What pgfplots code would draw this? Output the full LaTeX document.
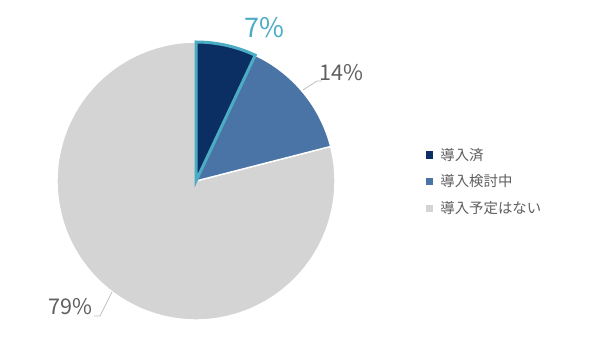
\documentclass[border=0pt]{standalone}
\usepackage{pgfplots}
\pgfplotsset{compat=1.18}
\usepackage{fontspec}
\setmainfont{Noto Sans CJK JP}
\definecolor{cnavy}{HTML}{0B2E63}
\definecolor{cblue}{HTML}{4A74A6}
\definecolor{cgrey}{HTML}{D4D4D4}
\definecolor{ccyan}{HTML}{4BADC4}
\definecolor{ctext}{HTML}{5F5F5F}
\definecolor{cline}{HTML}{BFBFBF}
% shares (percent)
\def\vA{7}\def\vB{14}\def\vC{79}
\pgfmathsetmacro{\aA}{90-3.6*\vA}
\pgfmathsetmacro{\aB}{\aA-3.6*\vB}
\pgfmathsetmacro{\aC}{\aB-3.6*\vC}
\begin{document}
\begin{tikzpicture}
\begin{axis}[
  scale only axis, width=300pt, height=169pt,
  xmin=-196, xmax=404, ymin=-157, ymax=181,
  hide axis, clip=false,
]
\path[use as bounding box] (axis cs:-196,-157) rectangle (axis cs:404,181);
% slices
\addplot[fill=cgrey, draw=white, line width=0.7pt, domain=\aB:\aC, samples=120] ({139*cos(x)},{139*sin(x)}) -- (axis cs:0,0) -- cycle;
\addplot[fill=cblue, draw=white, line width=0.7pt, domain=\aA:\aB, samples=40] ({139*cos(x)},{139*sin(x)}) -- (axis cs:0,0) -- cycle;
\addplot[fill=cnavy, draw=ccyan, line width=1.5pt, line join=miter, domain=90:\aA, samples=30] ({139*cos(x)},{139*sin(x)}) -- (axis cs:0,0) -- cycle;
% data labels
\node[text=ccyan, font=\fontsize{13.5}{15}\selectfont] at (axis cs:68,153) {7\%};
\node[text=ctext, font=\fontsize{10.8}{12}\selectfont] at (axis cs:145,108) {14\%};
\node[text=ctext, font=\fontsize{10.8}{12}\selectfont] at (axis cs:-126,-125.5) {79\%};
\draw[cline, line width=0.4pt] (axis cs:107,91) -- (axis cs:121,100) -- (axis cs:126,100);
\draw[cline, line width=0.4pt] (axis cs:-84,-111) -- (axis cs:-96,-135) -- (axis cs:-102,-135);
% legend
\fill[cnavy] (axis cs:230,22.5) rectangle (axis cs:237,29.5);
\fill[cblue] (axis cs:230,-3.5) rectangle (axis cs:237,3.5);
\fill[cgrey] (axis cs:230,-30.5) rectangle (axis cs:237,-23.5);
\node[anchor=west, text=ctext, font=\fontsize{7.2}{8}\selectfont, inner sep=0pt] at (axis cs:244,26) {導入済};
\node[anchor=west, text=ctext, font=\fontsize{7.2}{8}\selectfont, inner sep=0pt] at (axis cs:244,0) {導入検討中};
\node[anchor=west, text=ctext, font=\fontsize{7.2}{8}\selectfont, inner sep=0pt] at (axis cs:244,-27) {導入予定はない};
\end{axis}
\end{tikzpicture}
\end{document}
